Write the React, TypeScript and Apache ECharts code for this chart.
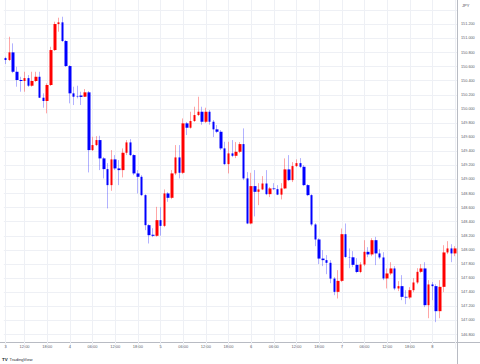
import React, { useEffect, useRef } from 'react';
import * as echarts from 'echarts';

// Hourly USD/JPY candles, starting day 3 at 07:00
const FIRST_DAY = 3;
const FIRST_HOUR = 7;

const opens = [
  150.721, 150.693, 150.802, 150.527, 150.410, 150.396, 150.437, 150.329, 150.396, 150.456,
  150.159, 150.112, 150.339, 150.835, 151.204, 151.228, 150.963, 150.608, 150.221, 150.176,
  150.190, 150.173, 150.235, 149.416, 149.487, 149.558, 149.298, 149.146, 148.919, 149.284,
  149.156, 149.132, 149.378, 149.525, 149.345, 149.085, 149.037, 148.777, 148.351, 148.215,
  148.200, 148.422, 148.341, 148.801, 148.739, 149.085, 149.312, 149.094, 149.795, 149.733,
  149.828, 149.913, 149.960, 149.818, 149.960, 149.818, 149.710, 149.676, 149.440, 149.217,
  149.369, 149.335, 149.392, 149.501, 149.014, 148.375, 148.905, 148.824, 148.858, 148.942,
  148.791, 148.872, 148.862, 148.784, 148.872, 149.142, 148.990, 149.189, 149.231, 149.179,
  148.919, 148.777, 148.361, 148.148, 147.877, 147.855, 147.817, 147.593, 147.405, 147.561,
  148.223, 147.900, 147.895, 147.788, 147.687, 147.793, 147.973, 147.936, 148.138, 147.950,
  147.893, 147.595, 147.666, 147.737, 147.453, 147.486, 147.334, 147.325, 147.429, 147.538,
  147.689, 147.737, 147.216, 147.510, 147.486, 147.131, 147.476, 147.964, 148.021, 147.950,
];

const closes = [
  150.693, 150.802, 150.527, 150.410, 150.396, 150.437, 150.329, 150.396, 150.456, 150.159,
  150.112, 150.339, 150.835, 151.204, 151.228, 150.963, 150.608, 150.221, 150.173, 150.169,
  150.170, 150.235, 149.416, 149.487, 149.558, 149.298, 149.146, 148.919, 149.284, 149.156,
  149.132, 149.378, 149.525, 149.345, 149.085, 149.037, 148.777, 148.351, 148.209, 148.200,
  148.422, 148.341, 148.801, 148.739, 149.085, 149.312, 149.094, 149.795, 149.733, 149.828,
  149.913, 149.960, 149.818, 149.960, 149.818, 149.710, 149.676, 149.440, 149.217, 149.369,
  149.335, 149.392, 149.501, 149.014, 148.375, 148.905, 148.824, 148.858, 148.942, 148.791,
  148.872, 148.862, 148.784, 148.872, 149.142, 148.990, 149.189, 149.231, 149.179, 148.919,
  148.777, 148.361, 148.148, 147.877, 147.855, 147.817, 147.593, 147.405, 147.561, 148.223,
  147.900, 147.895, 147.788, 147.687, 147.793, 147.973, 147.936, 148.138, 147.950, 147.893,
  147.595, 147.666, 147.737, 147.453, 147.486, 147.334, 147.325, 147.429, 147.538, 147.689,
  147.737, 147.216, 147.510, 147.486, 147.131, 147.476, 147.964, 148.021, 147.950, 148.021,
];

const highs = [
  150.740, 151.024, 150.930, 150.598, 150.456, 150.527, 150.480, 150.527, 150.527, 150.527,
  150.221, 150.363, 150.882, 151.237, 151.294, 151.308, 150.977, 150.622, 150.315, 150.329,
  150.244, 150.282, 150.254, 149.605, 149.615, 149.619, 149.316, 149.231, 149.416, 149.345,
  149.274, 149.440, 149.558, 149.572, 149.359, 149.132, 149.061, 148.791, 148.365, 148.308,
  148.611, 148.607, 148.858, 148.820, 149.132, 149.487, 149.487, 149.865, 149.814, 149.960,
  150.031, 150.173, 150.031, 150.017, 149.984, 149.842, 149.771, 149.700, 149.534, 149.534,
  149.558, 149.530, 149.530, 149.724, 149.104, 149.094, 149.132, 148.947, 149.047, 149.132,
  148.891, 148.947, 148.919, 148.947, 149.298, 149.345, 149.245, 149.284, 149.302, 149.203,
  148.933, 148.791, 148.380, 148.166, 147.997, 147.926, 147.855, 147.614, 147.713, 148.304,
  148.375, 148.021, 147.983, 147.883, 147.826, 148.138, 148.039, 148.166, 148.185, 148.011,
  147.968, 147.737, 147.826, 147.770, 147.557, 147.642, 147.429, 147.472, 147.599, 147.741,
  147.798, 147.826, 147.571, 147.543, 147.514, 147.571, 148.067, 148.124, 148.081, 148.053,
];

const lows = [
  150.636, 150.679, 150.508, 150.315, 150.244, 150.244, 150.311, 150.315, 150.381, 150.154,
  150.017, 149.937, 150.325, 150.821, 151.095, 150.949, 150.594, 150.079, 150.055, 150.150,
  150.055, 150.169, 149.099, 149.402, 149.473, 149.132, 149.014, 148.588, 148.838, 149.132,
  148.919, 149.028, 149.345, 149.331, 149.061, 148.801, 148.763, 148.280, 148.091, 148.181,
  148.188, 148.202, 148.323, 148.682, 148.720, 149.061, 149.014, 149.075, 149.629, 149.720,
  149.815, 149.899, 149.775, 149.800, 149.775, 149.601, 149.657, 149.416, 149.203, 149.085,
  149.316, 149.302, 149.373, 148.990, 148.365, 148.362, 148.475, 148.635, 148.848, 148.777,
  148.749, 148.848, 148.777, 148.716, 148.862, 148.976, 148.962, 149.175, 149.160, 148.905,
  148.763, 148.337, 148.053, 147.799, 147.770, 147.656, 147.528, 147.358, 147.311, 147.543,
  147.883, 147.741, 147.756, 147.670, 147.670, 147.770, 147.897, 147.911, 147.784, 147.869,
  147.571, 147.453, 147.642, 147.429, 147.415, 147.287, 147.230, 147.301, 147.401, 147.514,
  147.670, 147.188, 147.031, 147.287, 146.975, 147.031, 147.401, 147.940, 147.826, 147.911,
];

const Y_MIN = 146.6;
const Y_MAX = 151.545;
const Y_STEP = 0.2;

const categories = opens.map((_, i) => {
  const t = FIRST_HOUR + i;
  const d = FIRST_DAY + Math.floor(t / 24);
  const h = t % 24;
  return `${d} ${String(h).padStart(2, '0')}:00`;
});

const LAST = categories.length - 1;

const isTick = (i: number, v: string) => {
  if (i === 0) return true;
  const h = Number(String(v).split(' ')[1].slice(0, 2));
  return h % 6 === 0;
};

const tickText = (v: string, i: number) => {
  const [d, hm] = String(v).split(' ');
  return i === 0 || hm === '00:00' ? d : hm;
};

export default function App() {
  const ref = useRef<HTMLDivElement>(null);

  useEffect(() => {
    if (!ref.current) return;
    const chart = echarts.init(ref.current, null, { renderer: 'svg' });
    const full = opens.map((o, i) => [o, closes[i], lows[i], highs[i]]);
    const bodies = opens.map((o, i) => [o, closes[i], Math.min(o, closes[i]), Math.max(o, closes[i])]);
    const gridColor = '#eef0f5';
    const textColor = '#5d606b';
    chart.setOption({
      animation: false,
      backgroundColor: '#ffffff',
      grid: { left: 3.8, right: 23, top: 0, bottom: 15.4 },
      xAxis: {
        type: 'category',
        data: categories,
        boundaryGap: true,
        offset: -6.2,
        axisLine: { show: false },
        axisTick: { show: false },
        axisLabel: {
          interval: (i: number, v: string) => i !== LAST && isTick(i, v),
          formatter: (v: string, i: number) => tickText(v, i),
          fontSize: 4,
          color: textColor,
          margin: 2,
          fontFamily: 'Liberation Sans, Arial, sans-serif',
        },
        splitLine: {
          show: true,
          interval: (i: number, v: string) => isTick(i, v),
          alignWithLabel: true,
          lineStyle: { color: gridColor, width: 1 },
        },
      },
      yAxis: {
        type: 'value',
        position: 'right',
        min: Y_MIN,
        max: Y_MAX,
        interval: Y_STEP,
        axisLine: { show: false },
        axisTick: { show: false },
        axisLabel: {
          fontSize: 3.8,
          margin: 4,
          color: textColor,
          fontFamily: 'Liberation Sans, Arial, sans-serif',
          showMinLabel: false,
          showMaxLabel: false,
          formatter: (v: number) => (v > 151.3 ? '' : v.toFixed(3)),
        },
        splitLine: {
          show: true,
          showMinLine: false,
          showMaxLine: false,
          lineStyle: { color: gridColor, width: 1 },
        },
      },
      series: [
        {
          name: 'wicks',
          type: 'candlestick',
          data: full,
          barWidth: 1,
          silent: true,
          itemStyle: {
            color: 'rgba(255,0,0,0.35)',
            color0: 'rgba(0,0,255,0.3)',
            borderColor: 'rgba(255,0,0,0.35)',
            borderColor0: 'rgba(0,0,255,0.3)',
            borderWidth: 1,
          },
        },
        {
          name: 'USDJPY',
          type: 'candlestick',
          data: bodies,
          barWidth: 3,
          silent: true,
          itemStyle: {
            color: '#ff0000',
            color0: '#0000ff',
            borderColor: '#ff0000',
            borderColor0: '#0000ff',
            borderWidth: 0,
          },
        },
      ],
      graphic: [
        { type: 'line', silent: true, shape: { x1: 0, y1: 342.5, x2: 480, y2: 342.5 }, style: { stroke: '#b8bbc3', lineWidth: 1 } },
        { type: 'line', silent: true, shape: { x1: 457.5, y1: 0, x2: 457.5, y2: 364 }, style: { stroke: '#b8bbc3', lineWidth: 1 } },
        {
          type: 'text', left: 462, top: 3,
          style: { text: 'JPY', fontSize: 4, fill: '#4a4d57', fontFamily: 'Liberation Sans, Arial, sans-serif' },
        },
        {
          type: 'text', left: 2, top: 357,
          style: { text: 'TV', fontSize: 4.4, fontWeight: 'bold', fill: '#131722', fontFamily: 'Liberation Sans, Arial, sans-serif' },
        },
        {
          type: 'text', left: 9.5, top: 357.2,
          style: { text: 'TradingView', fontSize: 4.2, fill: '#2a2e39', fontFamily: 'Liberation Sans, Arial, sans-serif' },
        },
      ],
    });
    return () => chart.dispose();
  }, []);

  return (
    <div
      ref={ref}
      style={{ position: 'fixed', left: 0, top: 0, width: 480, height: 364, background: '#fff' }}
    />
  );
}
